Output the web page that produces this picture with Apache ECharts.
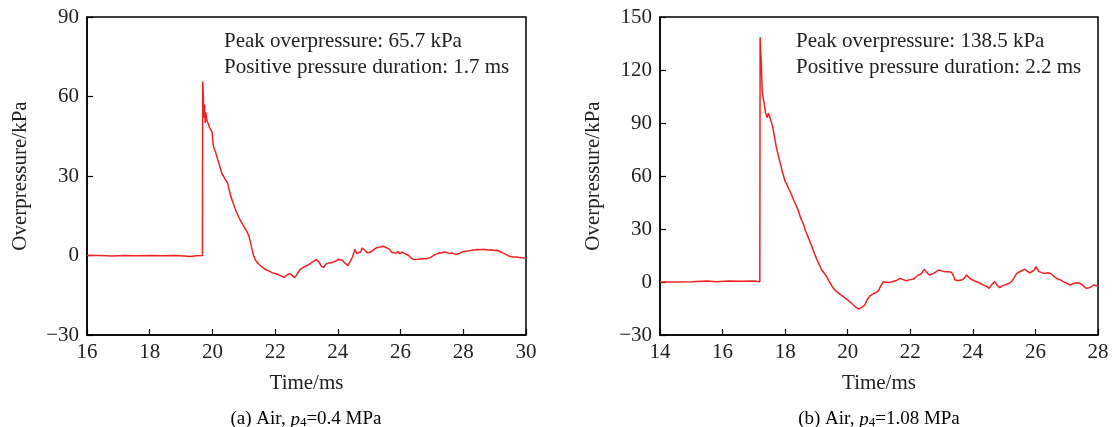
<!DOCTYPE html>
<html>
<head>
<meta charset="utf-8">
<script src="https://cdn.jsdelivr.net/npm/echarts@6/dist/echarts.min.js"></script>
<style>html,body{margin:0;padding:0;background:#fff}#c{width:1113px;height:427px}</style>
</head>
<body>
<div id="c"></div>
<script>
// ---- data (a) Air, p4=0.4 MPa ----
const timeA = [16.0,16.4,16.8,17.2,17.6,18.0,18.4,18.8,19.1,19.3,19.5,19.68,19.69,19.71,19.73,19.75,19.77,19.79,19.82,19.86,19.9,19.95,19.99,20.02,20.05,20.1,20.15,20.2,20.25,20.3,20.35,20.42,20.48,20.52,20.58,20.64,20.7,20.76,20.82,20.88,20.95,21.02,21.1,21.16,21.2,21.25,21.3,21.36,21.42,21.5,21.6,21.7,21.8,21.9,22.0,22.1,22.2,22.3,22.38,22.46,22.54,22.62,22.7,22.78,22.85,22.95,23.05,23.15,23.25,23.32,23.4,23.48,23.55,23.62,23.72,23.82,23.92,24.0,24.06,24.14,24.22,24.32,24.4,24.47,24.54,24.6,24.66,24.72,24.78,24.82,24.88,24.95,25.01,25.08,25.16,25.23,25.32,25.44,25.54,25.65,25.72,25.78,25.84,25.92,25.97,26.05,26.12,26.18,26.26,26.34,26.42,26.55,26.68,26.82,26.95,27.05,27.14,27.22,27.3,27.38,27.45,27.55,27.65,27.77,27.88,27.98,28.09,28.2,28.32,28.45,28.55,28.65,28.78,28.9,28.98,29.06,29.15,29.26,29.36,29.46,29.58,29.7,29.8,29.9,30.0];
const pressA = [0,0,-0.2,0,-0.1,0,-0.1,0,-0.2,-0.4,-0.1,0,65.7,60,52,57,50,54,51,50,48.5,48,46.5,42,40.5,39,37,35,33,31,30,28.5,27.5,25.5,22.5,20.5,18.5,16.5,15,13.5,12,10.5,9,7.5,5.5,3,0.5,-1.5,-2.5,-3.5,-4.5,-5.3,-5.8,-6.5,-6.8,-7.2,-7.8,-8.2,-7.3,-6.8,-7.5,-8.4,-7,-5.5,-4.8,-4.2,-3.6,-2.8,-2,-1.5,-2.5,-4.2,-4.5,-3.2,-2.8,-2.6,-2.2,-1.5,-1.2,-1.8,-2.8,-3.8,-2,-0.5,2.3,0.8,1.2,1.3,2.8,3.5,1.8,1,0.4,1.5,2.3,2.9,3.1,3.5,3,2.3,1.2,1.8,0.8,1.5,0.6,1.3,0.8,1.2,0,-1,-1.5,-1.4,-1.2,-1.2,-0.8,0,0.5,1,0.9,1.3,1.2,0.8,0.9,0.4,0.8,1.4,1.6,1.8,2.1,2.3,2.2,2.4,2.1,2.2,1.9,2,1.6,1,0.4,-0.2,-0.6,-0.6,-0.8,-0.9,-0.9];

// ---- data (b) Air, p4=1.08 MPa ----
const timeB = [14.0,14.5,15.0,15.5,15.8,16.2,16.6,17.0,17.19,17.2,17.22,17.24,17.26,17.28,17.31,17.34,17.37,17.4,17.43,17.46,17.5,17.53,17.56,17.6,17.65,17.7,17.75,17.8,17.85,17.9,17.95,18.0,18.06,18.12,18.2,18.28,18.36,18.42,18.5,18.58,18.65,18.72,18.8,18.88,18.95,19.02,19.1,19.17,19.25,19.33,19.4,19.47,19.54,19.62,19.7,19.78,19.86,19.95,20.05,20.12,20.2,20.28,20.35,20.4,20.46,20.55,20.62,20.71,20.8,20.9,20.98,21.05,21.14,21.2,21.3,21.4,21.46,21.55,21.67,21.75,21.88,21.96,22.09,22.18,22.25,22.35,22.44,22.52,22.61,22.7,22.8,22.9,23.0,23.11,23.2,23.32,23.38,23.43,23.52,23.64,23.72,23.8,23.88,23.95,24.01,24.1,24.2,24.28,24.36,24.44,24.52,24.6,24.7,24.78,24.86,24.95,25.08,25.16,25.24,25.32,25.4,25.5,25.58,25.66,25.75,25.82,25.88,25.95,26.02,26.1,26.2,26.3,26.4,26.51,26.6,26.73,26.8,26.89,27.0,27.1,27.2,27.3,27.37,27.45,27.55,27.63,27.72,27.79,27.86,27.93,28.0];
const pressB = [0,0,0.1,0.6,0.2,0.6,0.4,0.6,0.2,138.5,130,124,110,106,105,100,96,95,93,95.5,94,94.5,93,88,83,78,74,70,67,63,60,57,55,52.5,49.5,46,43,40.5,36,33,29,26,22.5,19,15.5,12.5,9.5,6.8,5,3,0.5,-1.5,-3.6,-5,-6.2,-7.3,-8.3,-9.5,-11,-12,-13.3,-14.5,-15.3,-15.5,-14.2,-13,-10,-7.9,-6.8,-6,-5,-2.5,0.2,0.4,-0.3,0,-0.4,0.8,2.1,1.5,0.7,1.2,1.5,2.8,4,4.5,7.2,5.5,4,4.5,5.5,6.8,6.3,5.8,5.8,5.5,3.5,1.1,0.8,1.1,2,4,2.5,1.5,1.1,0.3,-0.4,-1.1,-2,-2.5,-3.6,-1.5,0.2,-2,-3.2,-2.2,-1.3,-0.8,0.2,2.5,4.9,5.8,6.5,7.2,6,5.2,4.9,6.5,8.7,6,5.3,4.8,5.2,4.5,3,1.5,1.2,0.2,-0.8,-1.7,-1,-0.5,-0.4,-1,-2.5,-3.6,-3.2,-2.7,-1.7,-2,-2.3];

const xTicksA = [16, 30, 2];
const yTicksA = [-30, 90, 30];
const xTicksB = [14, 28, 2];
const yTicksB = [-30, 150, 30];
const peakA = 65.7, durA = 1.7;
const peakB = 138.5, durB = 2.2;
const xName = 'Time/ms';
const yName = 'Overpressure/kPa';

const FONT = "'Liberation Serif','Times New Roman',serif";
const TXT = '#222';

function zip(t, p) { return t.map((v, i) => [v, p[i]]); }

function xAxis(idx, tk) {
  return {
    type: 'value', gridIndex: idx, min: tk[0], max: tk[1], interval: tk[2],
    name: xName, nameLocation: 'middle', nameGap: 38,
    nameTextStyle: { fontFamily: FONT, fontSize: 21, color: TXT },
    axisLine: { onZero: false, lineStyle: { color: '#000', width: 1.5 } },
    axisTick: { inside: true, length: 6, lineStyle: { color: '#000', width: 1.2 } },
    axisLabel: { fontFamily: FONT, fontSize: 21, color: TXT, margin: 7 },
    splitLine: { show: false }
  };
}
function yAxis(idx, tk) {
  return {
    type: 'value', gridIndex: idx, min: tk[0], max: tk[1], interval: tk[2],
    name: yName, nameLocation: 'middle', nameGap: 56, nameRotate: 90,
    nameTextStyle: { fontFamily: FONT, fontSize: 21, color: TXT },
    axisLine: { onZero: false, lineStyle: { color: '#000', width: 1.5 } },
    axisTick: { inside: true, length: 6, lineStyle: { color: '#000', width: 1.2 } },
    axisLabel: {
      fontFamily: FONT, fontSize: 21, color: TXT, margin: 8,
      formatter: v => (v < 0 ? '\u2212' + Math.abs(v) : String(v))
    },
    splitLine: { show: false }
  };
}

const chart = echarts.init(document.getElementById('c'), null, { renderer: 'canvas' });

const capRich = {
  b: { fontFamily: FONT, fontSize: 19, color: TXT, lineHeight: 26, verticalAlign: 'bottom' },
  i: { fontFamily: FONT, fontSize: 19, color: TXT, fontStyle: 'italic', lineHeight: 26, verticalAlign: 'bottom' },
  s: { fontFamily: FONT, fontSize: 13, color: TXT, lineHeight: 11, verticalAlign: 'bottom' }
};

chart.setOption({
  animation: false,
  backgroundColor: '#fff',
  grid: [
    { left: 87, top: 17, width: 439, height: 318, show: true, borderColor: '#000', borderWidth: 1.5, backgroundColor: 'transparent' },
    { left: 660, top: 17, width: 438, height: 318, show: true, borderColor: '#000', borderWidth: 1.5, backgroundColor: 'transparent' }
  ],
  xAxis: [xAxis(0, xTicksA), xAxis(1, xTicksB)],
  yAxis: [yAxis(0, yTicksA), yAxis(1, yTicksB)],
  series: [
    { type: 'line', xAxisIndex: 0, yAxisIndex: 0, data: zip(timeA, pressA), showSymbol: false, symbol: 'none',
      lineStyle: { color: '#ee2222', width: 1.5 } },
    { type: 'line', xAxisIndex: 1, yAxisIndex: 1, data: zip(timeB, pressB), showSymbol: false, symbol: 'none',
      lineStyle: { color: '#ee2222', width: 1.5 } }
  ],
  graphic: [
    { type: 'text', x: 224, y: 28, style: {
      text: 'Peak overpressure: ' + peakA + ' kPa\nPositive pressure duration: ' + durA + ' ms',
      font: '21px ' + FONT, fill: TXT, lineHeight: 26 } },
    { type: 'text', x: 796, y: 28, style: {
      text: 'Peak overpressure: ' + peakB + ' kPa\nPositive pressure duration: ' + durB + ' ms',
      font: '21px ' + FONT, fill: TXT, lineHeight: 26 } },
    { type: 'text', x: 306, y: 416, style: {
      text: '{b|(a) Air, }{i|p}{s|4}{b|=0.4 MPa}', align: 'center', verticalAlign: 'middle', rich: capRich } },
    { type: 'text', x: 879, y: 416, style: {
      text: '{b|(b) Air, }{i|p}{s|4}{b|=1.08 MPa}', align: 'center', verticalAlign: 'middle', rich: capRich } }
  ]
});
</script>
</body>
</html>
